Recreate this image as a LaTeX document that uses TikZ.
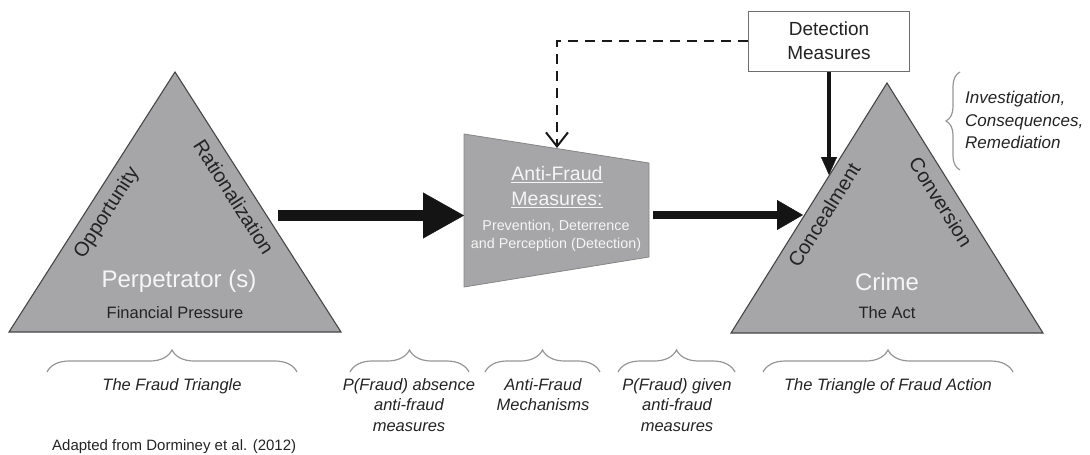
\documentclass[tikz,border=0pt]{standalone}
\usepackage{fontspec}
\setmainfont{Liberation Sans}
\usetikzlibrary{arrows.meta,decorations.pathreplacing}
\definecolor{trifill}{RGB}{166,166,168}
\definecolor{triedge}{RGB}{70,70,70}
\definecolor{bracec}{RGB}{150,150,150}
\definecolor{txtdark}{RGB}{35,35,35}
\definecolor{txtlight}{RGB}{245,245,245}
\definecolor{boxedge}{RGB}{110,110,110}
\newcommand{\myfs}[1]{\fontsize{#1}{#1}\selectfont}
\begin{document}
\begin{tikzpicture}[x=1pt,y=-1pt,
  tri/.style={fill=trifill,draw=triedge,line width=1.1pt,line join=miter},
  trap/.style={fill=trifill,draw=trifill!80!black,line width=0.8pt},
  side/.style={text=txtdark,font=\myfs{20},inner sep=0pt},
  big/.style={text=txtlight,font=\myfs{24},inner sep=0pt},
  sub/.style={text=txtdark,font=\myfs{16.5},inner sep=0pt},
  lbl/.style={align=center,font=\fontsize{16.5}{20.5}\selectfont\itshape,text=txtdark,inner sep=0pt,anchor=north},
  brc/.style={draw=bracec,line width=1.2pt,decorate,decoration={brace,amplitude=22pt}},
  bigarrow/.style={draw=black!90,line width=#1},
]
\useasboundingbox (0,0) rectangle (1090,455);

% left triangle
\coordinate (lA) at (175,72);
\coordinate (lL) at (9,332);
\coordinate (lR) at (341,332);
\draw[tri] (lA) -- (lR) -- (lL) -- cycle;
\node[side,rotate=57.4] (opp) at (107,213) {Opportunity};
\node[side,rotate=-57.4] (rat) at (234,197) {Rationalization};
\node[big] (perp) at (179,281) {Perpetrator (s)};
\node[sub] (fin) at (175,313) {Financial Pressure};

% right triangle
\coordinate (rA) at (887,83);
\coordinate (rL) at (731,333);
\coordinate (rR) at (1043,333);
\draw[tri] (rA) -- (rR) -- (rL) -- cycle;
\node[side,rotate=58] (conc) at (824,215) {Concealment};
\node[side,rotate=-58] (conv) at (941,202) {Conversion};
\node[big] (crime) at (887,282) {Crime};
\node[sub] (act) at (887,313) {The Act};

% trapezoid
\coordinate (zTL) at (464,134);
\coordinate (zTR) at (649,163);
\coordinate (zBR) at (649,257);
\coordinate (zBL) at (464,287);
\draw[trap] (zTL) -- (zTR) -- (zBR) -- (zBL) -- cycle;
\node[text=txtlight,font=\fontsize{19.5}{25}\selectfont,align=center,inner sep=0pt] (afm) at (557,187.5)
  {\underline{Anti-Fraud}\\\underline{Measures:}};
\node[text=txtlight,font=\fontsize{14.3}{18}\selectfont,align=center,inner sep=0pt] (pdp) at (556,236)
  {Prevention, Deterrence\\and Perception (Detection)};

% detection box
\node[draw=boxedge,fill=white,line width=1pt,minimum width=161pt,minimum height=60pt,
      align=center,font=\fontsize{19}{24}\selectfont,text=txtdark,inner sep=0pt] (det) at (829,41)
  {Detection\\Measures};

% connectors
\coordinate (a1s) at (278,215.5);
\coordinate (a1e) at (464,215.5);
\draw[line width=11pt,draw=black!92,-{Triangle[length=41pt,width=46pt,line width=0.4pt]}] (a1s) -- (a1e);
\coordinate (a2s) at (653,215);
\coordinate (a2e) at (803,215);
\draw[line width=8pt,draw=black!92,-{Triangle[length=26pt,width=30pt,line width=0.4pt]}] (a2s) -- (a2e);
\coordinate (dtip) at (829,175);
\draw[line width=4.5pt,draw=black!92,-{Triangle[length=18pt,width=16pt,line width=0.4pt]}] (det.south) -- (dtip);
\coordinate (dash) at (557,148);
\draw[line width=2.4pt,draw=black!90,dash pattern=on 10pt off 7pt,
      -{Straight Barb[length=14pt,width=22pt,line width=2pt]}] (det.west) -| (dash);

% right brace and text
\coordinate (rb1) at (960,170);
\coordinate (rb2) at (960,72);
\draw[draw=bracec,line width=1.2pt,decorate,decoration={brace,amplitude=14pt}] (rb1) -- (rb2);
\node[anchor=west,align=left,font=\fontsize{17}{22.5}\selectfont\itshape,text=txtdark,inner sep=0pt] (inv) at (965,120)
  {Investigation,\\Consequences,\\Remediation};

% bottom braces
\coordinate (b1a) at (47,372);  \coordinate (b1b) at (297,372);
\coordinate (b2a) at (350,372); \coordinate (b2b) at (469,372);
\coordinate (b3a) at (485,372); \coordinate (b3b) at (600,372);
\coordinate (b4a) at (618,372); \coordinate (b4b) at (735,372);
\coordinate (b5a) at (763,372); \coordinate (b5b) at (1013,372);
\draw[brc] (b1a) -- (b1b);
\draw[brc] (b2a) -- (b2b);
\draw[brc] (b3a) -- (b3b);
\draw[brc] (b4a) -- (b4b);
\draw[brc] (b5a) -- (b5b);
\node[lbl] (l1) at (172,378) {The Fraud Triangle};
\node[lbl] (l2) at (409,378) {P(Fraud) absence\\anti-fraud\\measures};
\node[lbl] (l3) at (543,378) {Anti-Fraud\\Mechanisms};
\node[lbl] (l4) at (677,378) {P(Fraud) given\\anti-fraud\\measures};
\node[lbl] (l5) at (888,378) {The Triangle of Fraud Action};

\node[anchor=west,font=\myfs{15},text=txtdark,inner sep=0pt] (src) at (52,447) {Adapted from Dorminey et al. (2012)};
\end{tikzpicture}
\end{document}
